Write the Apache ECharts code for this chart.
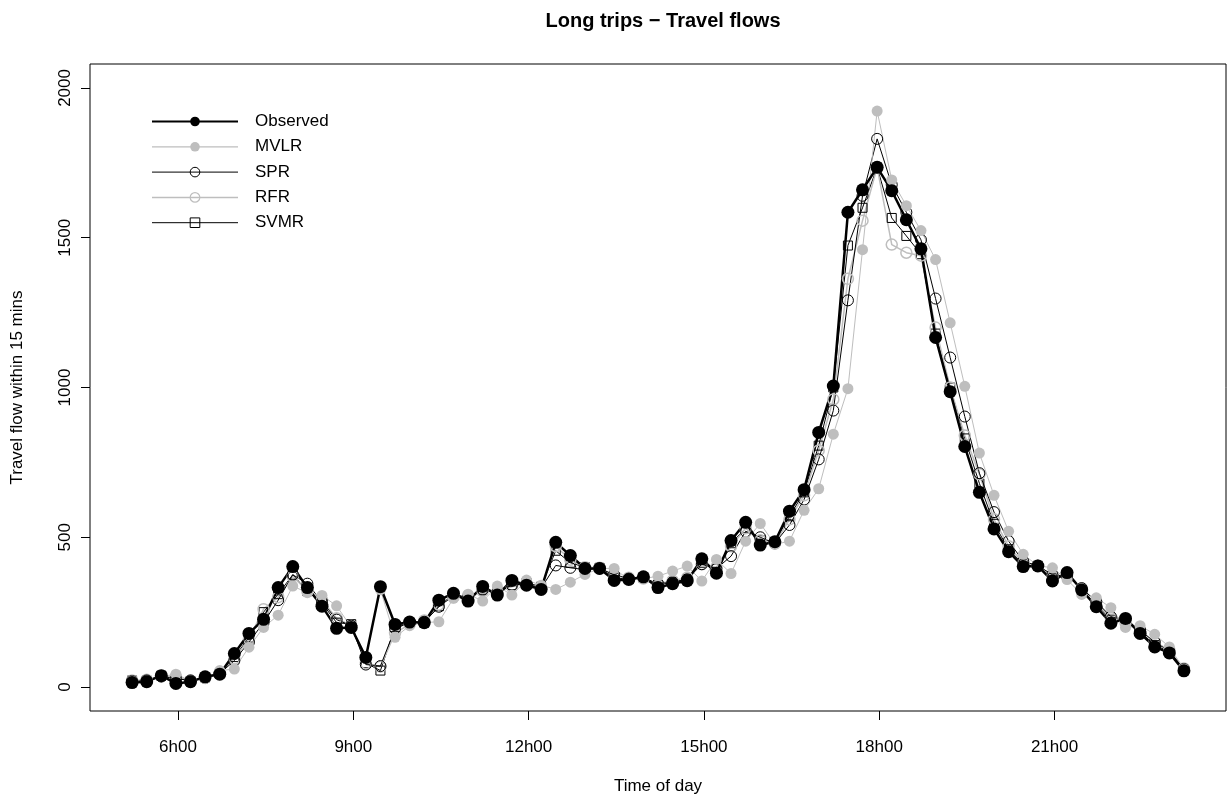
<!DOCTYPE html>
<html>
<head>
<meta charset="utf-8">
<title>Long trips - Travel flows</title>
<script src="https://cdn.jsdelivr.net/npm/echarts@6.0.0/dist/echarts.min.js"></script>
<style>
    html, body { margin: 0; padding: 0; background: #fff; }
    #chart { width: 1229px; height: 800px; }
</style>
</head>
<body>
<div id="chart"></div>
<script>
//15分钟一个点，从5h13左右开始
var startHour = 5.214;
var stepHour = 0.25;
var tickHours = [6, 9, 12, 15, 18, 21];
var yTicks = [0, 500, 1000, 1500, 2000];

var observed = [15, 18, 38, 12, 18, 34, 43, 112, 179, 226, 332, 402, 332, 270, 196, 199, 99, 335, 209, 217,
    215, 290, 313, 287, 336, 307, 356, 340, 326, 483, 439, 396, 396, 356, 359, 368, 332, 345, 355, 428,
    380, 489, 550, 474, 485, 587, 659, 850, 1005, 1585, 1660, 1735, 1657, 1560, 1463, 1167, 986, 803, 650, 528,
    452, 402, 404, 354, 382, 324, 268, 213, 229, 179, 134, 114, 54];
var mvlr = [20, 20, 35, 43, 20, 28, 55, 60, 133, 199, 240, 337, 315, 306, 271, 200, 100, 325, 166, 205,
    215, 218, 296, 310, 287, 337, 307, 357, 340, 326, 350, 376, 396, 396, 358, 362, 370, 387, 404, 354,
    426, 379, 487, 546, 476, 487, 590, 662, 844, 996, 1460, 1923, 1693, 1607, 1524, 1427, 1216, 1004, 781, 640,
    520, 443, 405, 398, 359, 309, 298, 265, 199, 205, 176, 134, 60];
var spr = [20, 22, 35, 28, 22, 30, 45, 88, 150, 215, 290, 375, 345, 285, 225, 205, 75, 70, 195, 215,
    218, 268, 305, 300, 325, 315, 340, 345, 330, 406, 398, 392, 396, 375, 362, 365, 345, 350, 360, 410,
    395, 437, 520, 500, 480, 541, 626, 760, 923, 1291, 1640, 1830, 1677, 1585, 1493, 1297, 1100, 903, 714, 584,
    487, 420, 405, 375, 370, 330, 285, 235, 225, 190, 150, 120, 60];
var rfr = [22, 24, 38, 35, 22, 32, 48, 95, 160, 260, 300, 370, 320, 290, 230, 205, 80, 68, 180, 210,
    222, 275, 300, 305, 320, 318, 335, 345, 330, 470, 425, 400, 398, 372, 365, 362, 345, 355, 365, 410,
    400, 470, 530, 490, 480, 560, 640, 790, 960, 1363, 1557, 1735, 1477, 1450, 1440, 1200, 1000, 840, 710, 560,
    470, 415, 405, 370, 372, 330, 285, 230, 215, 185, 150, 125, 62];
var svmr = [22, 22, 38, 30, 20, 32, 45, 100, 165, 250, 310, 375, 320, 280, 215, 210, 80, 55, 200, 215,
    215, 270, 310, 300, 325, 320, 340, 348, 335, 455, 415, 400, 398, 365, 360, 365, 340, 350, 360, 415,
    395, 480, 530, 490, 485, 570, 650, 806, 1000, 1474, 1600, 1735, 1566, 1506, 1445, 1180, 1000, 830, 680, 545,
    460, 410, 405, 365, 375, 325, 275, 225, 220, 185, 140, 118, 58];

//时间轴上的位置
function withTime (values) {
    return values.map(function (v, i) {
        return [startHour + i * stepHour, v];
    });
}

var fontName = '"Liberation Sans", Arial, sans-serif';
var grey = '#bebebe';

var chart = echarts.init(document.getElementById('chart'), null, {renderer: 'canvas'});
var option = {
    animation: false,
    backgroundColor: '#fff',
    textStyle: { fontFamily: fontName, color: '#000' },
    title: {
        text: 'Long trips \u2212 Travel flows',
        left: 658,
        top: 6,
        textAlign: 'center',
        textStyle: { fontFamily: fontName, fontSize: 20, fontWeight: 'bold', color: '#000' }
    },
    legend: {
        orient: 'vertical',
        left: 151,
        top: 113,
        padding: 0,
        itemWidth: 86,
        itemHeight: 12,
        itemGap: 8.3,
        data: [
            { name: 'Observed', lineStyle: { width: 2 } },
            { name: 'MVLR', lineStyle: { width: 1.2 } },
            { name: 'SPR', lineStyle: { width: 1 }, itemStyle: { borderWidth: 1 } },
            { name: 'RFR', lineStyle: { width: 1.5 }, itemStyle: { borderWidth: 1.2 } },
            { name: 'SVMR', lineStyle: { width: 1 }, itemStyle: { borderWidth: 1 } }
        ],
        textStyle: { fontFamily: fontName, fontSize: 17, color: '#000', padding: [0, 0, 0, 12] }
    },
    grid: {
        left: 90,
        right: 3,
        top: 64,
        bottom: 88,
        show: true,
        borderColor: '#000',
        borderWidth: 1
    },
    xAxis: {
        type: 'value',
        min: 4.494,
        max: 23.934,
        name: 'Time of day',
        nameLocation: 'middle',
        nameGap: 67,
        nameTextStyle: { fontFamily: fontName, fontSize: 17, color: '#000' },
        splitLine: { show: false },
        axisLine: { show: false, onZero: false },
        axisTick: { show: true, inside: false, length: 9, customValues: tickHours, lineStyle: { color: '#000' } },
        axisLabel: {
            customValues: tickHours,
            margin: 28,
            fontFamily: fontName,
            fontSize: 17,
            color: '#000',
            formatter: function (v) { return v + 'h00'; }
        }
    },
    yAxis: {
        type: 'value',
        min: -80,
        max: 2080,
        name: 'Travel flow within 15 mins',
        nameLocation: 'middle',
        nameGap: 64,
        nameTextStyle: { fontFamily: fontName, fontSize: 17, color: '#000' },
        splitLine: { show: false },
        axisLine: { show: false, onZero: false },
        axisTick: { show: true, inside: false, length: 9, customValues: yTicks, lineStyle: { color: '#000' } },
        axisLabel: {
            customValues: yTicks,
            rotate: 90,
            margin: 16,
            fontFamily: fontName,
            fontSize: 17,
            color: '#000',
            formatter: function (v) { return String(v); }
        }
    },
    series: [{
        name: 'SVMR',
        type: 'line',
        data: withTime(svmr),
        symbol: 'rect',
        symbolSize: 9,
        showAllSymbol: true,
        itemStyle: { color: 'rgba(255,255,255,0)', borderColor: '#000', borderWidth: 1 },
        lineStyle: { color: '#000', width: 1 }
    }, {
        name: 'RFR',
        type: 'line',
        data: withTime(rfr),
        symbol: 'circle',
        symbolSize: 11,
        showAllSymbol: true,
        itemStyle: { color: 'rgba(255,255,255,0)', borderColor: grey, borderWidth: 1.5 },
        lineStyle: { color: grey, width: 1.5 }
    }, {
        name: 'SPR',
        type: 'line',
        data: withTime(spr),
        symbol: 'circle',
        symbolSize: 11,
        showAllSymbol: true,
        itemStyle: { color: 'rgba(255,255,255,0)', borderColor: '#000', borderWidth: 1 },
        lineStyle: { color: '#000', width: 1 }
    }, {
        name: 'MVLR',
        type: 'line',
        data: withTime(mvlr),
        symbol: 'circle',
        symbolSize: 11,
        showAllSymbol: true,
        itemStyle: { color: grey },
        lineStyle: { color: grey, width: 1 }
    }, {
        name: 'Observed',
        type: 'line',
        data: withTime(observed),
        symbol: 'circle',
        symbolSize: 13,
        showAllSymbol: true,
        itemStyle: { color: '#000' },
        lineStyle: { color: '#000', width: 2.5 }
    }]
};
chart.setOption(option);
</script>
</body>
</html>
